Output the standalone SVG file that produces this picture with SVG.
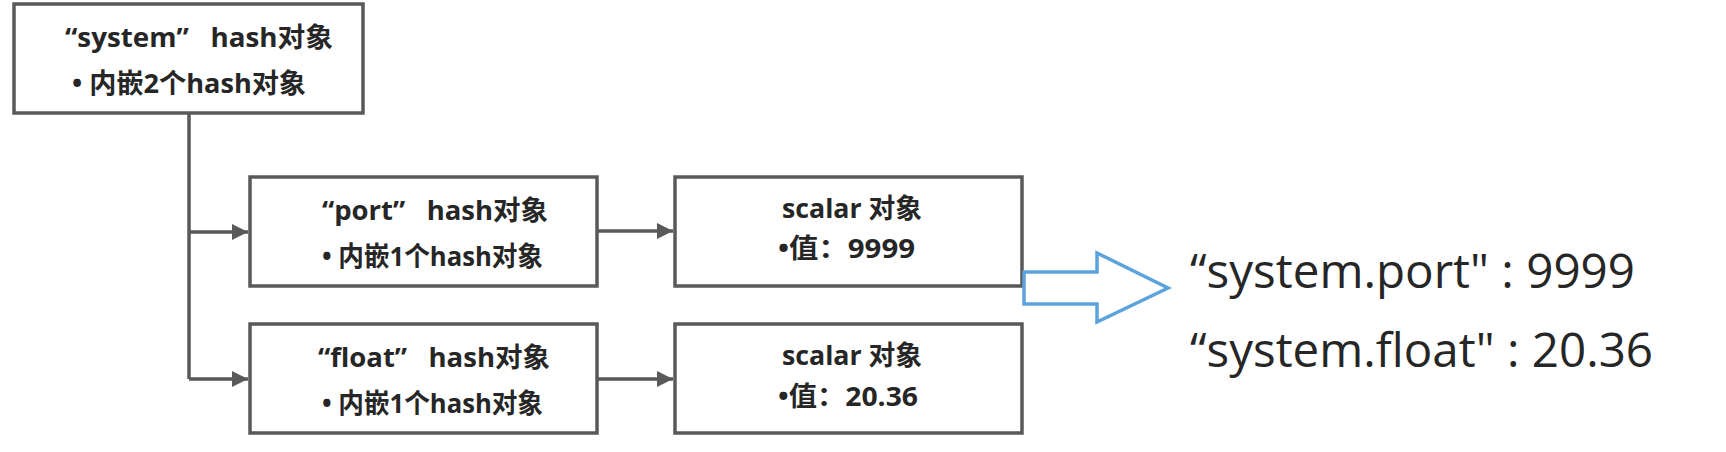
<svg xmlns="http://www.w3.org/2000/svg" width="1726" height="452" viewBox="0 0 1726 452">
<style>
.box{fill:#ffffff;stroke:#595959;stroke-width:3.5}
.t{font-family:"Open Sans","Noto Sans CJK SC",sans-serif;font-weight:bold;font-size:27px;fill:#262626;white-space:pre}
.r{font-family:"Open Sans","Noto Sans",sans-serif;font-size:47px;fill:#262626;white-space:pre}
.c{fill:none;stroke:#595959;stroke-width:3.5}
.big{fill:#ffffff;stroke:#5BA3DC;stroke-width:3.5;stroke-linejoin:miter}
</style>
<defs>
<marker id="ah" markerUnits="userSpaceOnUse" markerWidth="17" markerHeight="17" refX="16" refY="8" orient="auto">
<path d="M0,0 L16,8 L0,16 z" fill="#595959"/>
</marker>
</defs>
<rect width="1726" height="452" fill="#ffffff"/>
<g id="connectors">
<path class="c" d="M189,113 V379"/>
<path class="c" d="M189,232 H248" marker-end="url(#ah)"/>
<path class="c" d="M189,379 H248" marker-end="url(#ah)"/>
<path class="c" d="M597,231 H673" marker-end="url(#ah)"/>
<path class="c" d="M597,379 H673" marker-end="url(#ah)"/>
</g>
<g id="system">
<rect class="box" x="14" y="4" width="349" height="109"/>
<text class="t" x="65" y="47" textLength="268" lengthAdjust="spacingAndGlyphs">“system”   hash对象</text>
<text class="t" x="72" y="93" textLength="234" lengthAdjust="spacingAndGlyphs">• 内嵌2个hash对象</text>
</g>
<g id="port">
<rect class="box" x="250" y="177" width="347" height="109"/>
<text class="t" x="322" y="220" textLength="226" lengthAdjust="spacingAndGlyphs">“port”   hash对象</text>
<text class="t" x="322" y="266" textLength="221" lengthAdjust="spacingAndGlyphs">• 内嵌1个hash对象</text>
</g>
<g id="float">
<rect class="box" x="250" y="324" width="347" height="109"/>
<text class="t" x="318" y="367" textLength="232" lengthAdjust="spacingAndGlyphs">“float”   hash对象</text>
<text class="t" x="322" y="413" textLength="221" lengthAdjust="spacingAndGlyphs">• 内嵌1个hash对象</text>
</g>
<g id="scalar-port">
<rect class="box" x="675" y="177" width="347" height="109"/>
<text class="t" x="782" y="218" textLength="140" lengthAdjust="spacingAndGlyphs">scalar 对象</text>
<text class="t" x="778" y="258" textLength="137" lengthAdjust="spacingAndGlyphs">•值：9999</text>
</g>
<g id="scalar-float">
<rect class="box" x="675" y="324" width="347" height="109"/>
<text class="t" x="782" y="365" textLength="140" lengthAdjust="spacingAndGlyphs">scalar 对象</text>
<text class="t" x="778" y="406" textLength="140" lengthAdjust="spacingAndGlyphs">•值：20.36</text>
</g>
<g id="big-arrow">
<polygon class="big" points="1024,272 1097,272 1097,253 1168,288 1097,322 1097,304 1024,304"/>
</g>
<g id="result">
<text class="r" x="1190" y="288" textLength="445" lengthAdjust="spacingAndGlyphs">“system.port" : 9999</text>
<text class="r" x="1190" y="367" textLength="463" lengthAdjust="spacingAndGlyphs">“system.float" : 20.36</text>
</g>
</svg>
